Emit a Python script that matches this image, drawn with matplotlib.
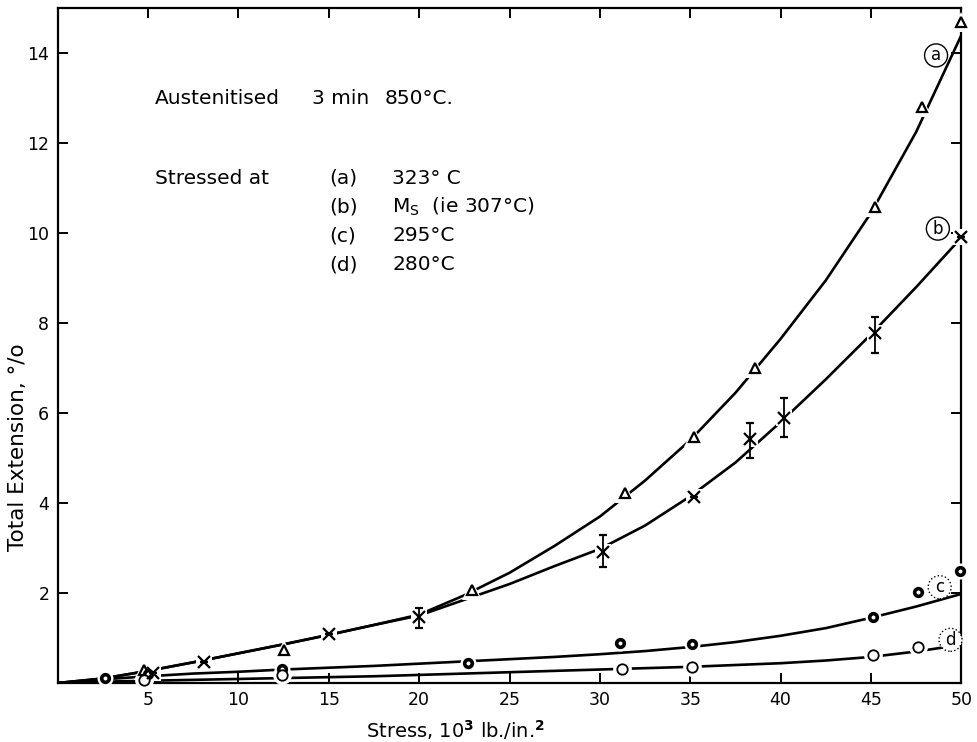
import numpy as np
import matplotlib.pyplot as plt

# measured points, stress in 10^3 lb/in^2 and total extension in %
a_x = [4.8, 12.5, 22.9, 31.4, 35.2, 38.6, 45.2, 47.8, 50.0]
a_y = [0.30, 0.74, 2.07, 4.23, 5.47, 7.00, 10.58, 12.80, 14.70]

b_x = [5.3, 8.1, 15.0, 20.0, 30.2, 35.2, 38.3, 40.2, 45.2, 50.0]
b_y = [0.22, 0.47, 1.08, 1.47, 2.91, 4.13, 5.42, 5.89, 7.78, 9.91]
b_err_lo = [0, 0, 0, 0.25, 0.33, 0, 0.42, 0.42, 0.45, 0]
b_err_hi = [0, 0, 0, 0.20, 0.38, 0, 0.36, 0.44, 0.35, 0]

c_x = [2.6, 5.0, 12.4, 22.7, 31.1, 35.1, 45.1, 47.6, 49.9]
c_y = [0.11, 0.20, 0.31, 0.44, 0.89, 0.87, 1.47, 2.03, 2.48]

d_x = [4.8, 12.4, 31.2, 35.1, 45.1, 47.6]
d_y = [0.06, 0.17, 0.31, 0.36, 0.62, 0.80]

# hand-drawn mean curves
curve_x = [0, 2.5, 5, 7.5, 10, 12.5, 15, 17.5, 20, 22.5, 25, 27.5, 30,
           32.5, 35, 37.5, 40, 42.5, 45, 47.5, 50]
curve_a = [0, 0.10, 0.27, 0.46, 0.66, 0.86, 1.07, 1.29, 1.52, 1.95, 2.45,
           3.05, 3.70, 4.50, 5.40, 6.45, 7.65, 8.95, 10.45, 12.25, 14.40]
curve_b = [0, 0.10, 0.27, 0.46, 0.66, 0.86, 1.07, 1.29, 1.50, 1.85, 2.20,
           2.60, 2.98, 3.50, 4.15, 4.90, 5.80, 6.75, 7.75, 8.80, 9.90]
curve_c = [0, 0.08, 0.15, 0.21, 0.25, 0.30, 0.34, 0.38, 0.43, 0.48, 0.53,
           0.58, 0.64, 0.71, 0.80, 0.91, 1.05, 1.22, 1.45, 1.70, 1.98]
curve_d = [0, 0.03, 0.05, 0.07, 0.09, 0.11, 0.13, 0.15, 0.18, 0.21, 0.24,
           0.27, 0.30, 0.33, 0.36, 0.40, 0.44, 0.50, 0.58, 0.70, 0.85]

x_ticks = [5, 10, 15, 20, 25, 30, 35, 40, 45, 50]
y_ticks = [2, 4, 6, 8, 10, 12, 14]

plt.rcParams['font.family'] = ['DejaVu Sans']
fig = plt.figure(figsize=(9.77, 7.42), dpi=100)
ax = fig.add_axes([0.059, 0.0795, 0.925, 0.9095])

for cy in (curve_a, curve_b, curve_c, curve_d):
    ax.plot(curve_x, cy, color='black', lw=1.9, zorder=2, solid_capstyle='butt')

def pts(x, y, marker, ms, mew, halo):
    # white halo breaks the curve around each point
    ax.plot(x, y, ls='none', marker=marker, ms=ms + halo, mew=0,
            mfc='white', mec='white', zorder=3, clip_on=False)
    ax.plot(x, y, ls='none', marker=marker, ms=ms, mew=mew,
            mfc='white', mec='black', zorder=4, clip_on=False)

pts(a_x, a_y, '^', 7, 1.6, 8)
pts(c_x, c_y, 'o', 5.5, 2.6, 6)
pts(d_x, d_y, 'o', 7.5, 1.3, 6)
ax.plot(b_x, b_y, ls='none', marker='s', ms=12, mew=0, mfc='white',
        mec='white', zorder=3, clip_on=False)
ax.errorbar(b_x, b_y, yerr=[b_err_lo, b_err_hi], fmt='x', color='black',
            ms=8, mew=1.6, elinewidth=1.3, capsize=3, capthick=1.3, zorder=4,
            clip_on=False)

# circled curve letters
for lab, lx, ly, ls in [('a', 48.6, 13.95, '-'), ('b', 48.7, 10.1, '-'),
                        ('c', 48.8, 2.13, ':'), ('d', 49.4, 0.96, ':')]:
    ax.text(lx, ly, lab, fontsize=12, ha='center', va='center', zorder=5,
            bbox=dict(boxstyle='circle,pad=0.15', fc='white', ec='black',
                      lw=1.0, ls=ls))

fs = 14.5
ax.text(5.4, 13.0, 'Austenitised', fontsize=fs, va='center')
ax.text(14.1, 13.0, '3 min', fontsize=fs, va='center')
ax.text(18.1, 13.0, '850°C.', fontsize=fs, va='center')
ax.text(5.4, 11.22, 'Stressed at', fontsize=fs, va='center')
rows = [('(a)', '323° C'), ('(b)', 'M$_\\mathrm{S}$  (ie 307°C)'),
        ('(c)', '295°C'), ('(d)', '280°C')]
for i, (tag, txt) in enumerate(rows):
    yy = 11.22 - i * 0.64
    ax.text(15.0, yy, tag, fontsize=fs, va='center')
    ax.text(18.5, yy, txt, fontsize=fs, va='center')

ax.set_xlim(0, 50)
ax.set_ylim(0, 15)
ax.set_xticks(x_ticks)
ax.set_yticks(y_ticks)
ax.tick_params(direction='in', length=7, width=1.4, labelsize=12.5,
               top=True, right=True, pad=6)
for s in ax.spines.values():
    s.set_linewidth(1.6)

ax.set_xlabel('Stress, 10$^\\mathbf{3}$ lb./in.$^\\mathbf{2}$', fontsize=14)
ax.xaxis.set_label_coords(0.44, -0.052)
ax.set_ylabel('Total Extension, °/o', fontsize=15.5)
ax.yaxis.set_label_coords(-0.033, 0.35)

fig.savefig('out.png', dpi=100)
